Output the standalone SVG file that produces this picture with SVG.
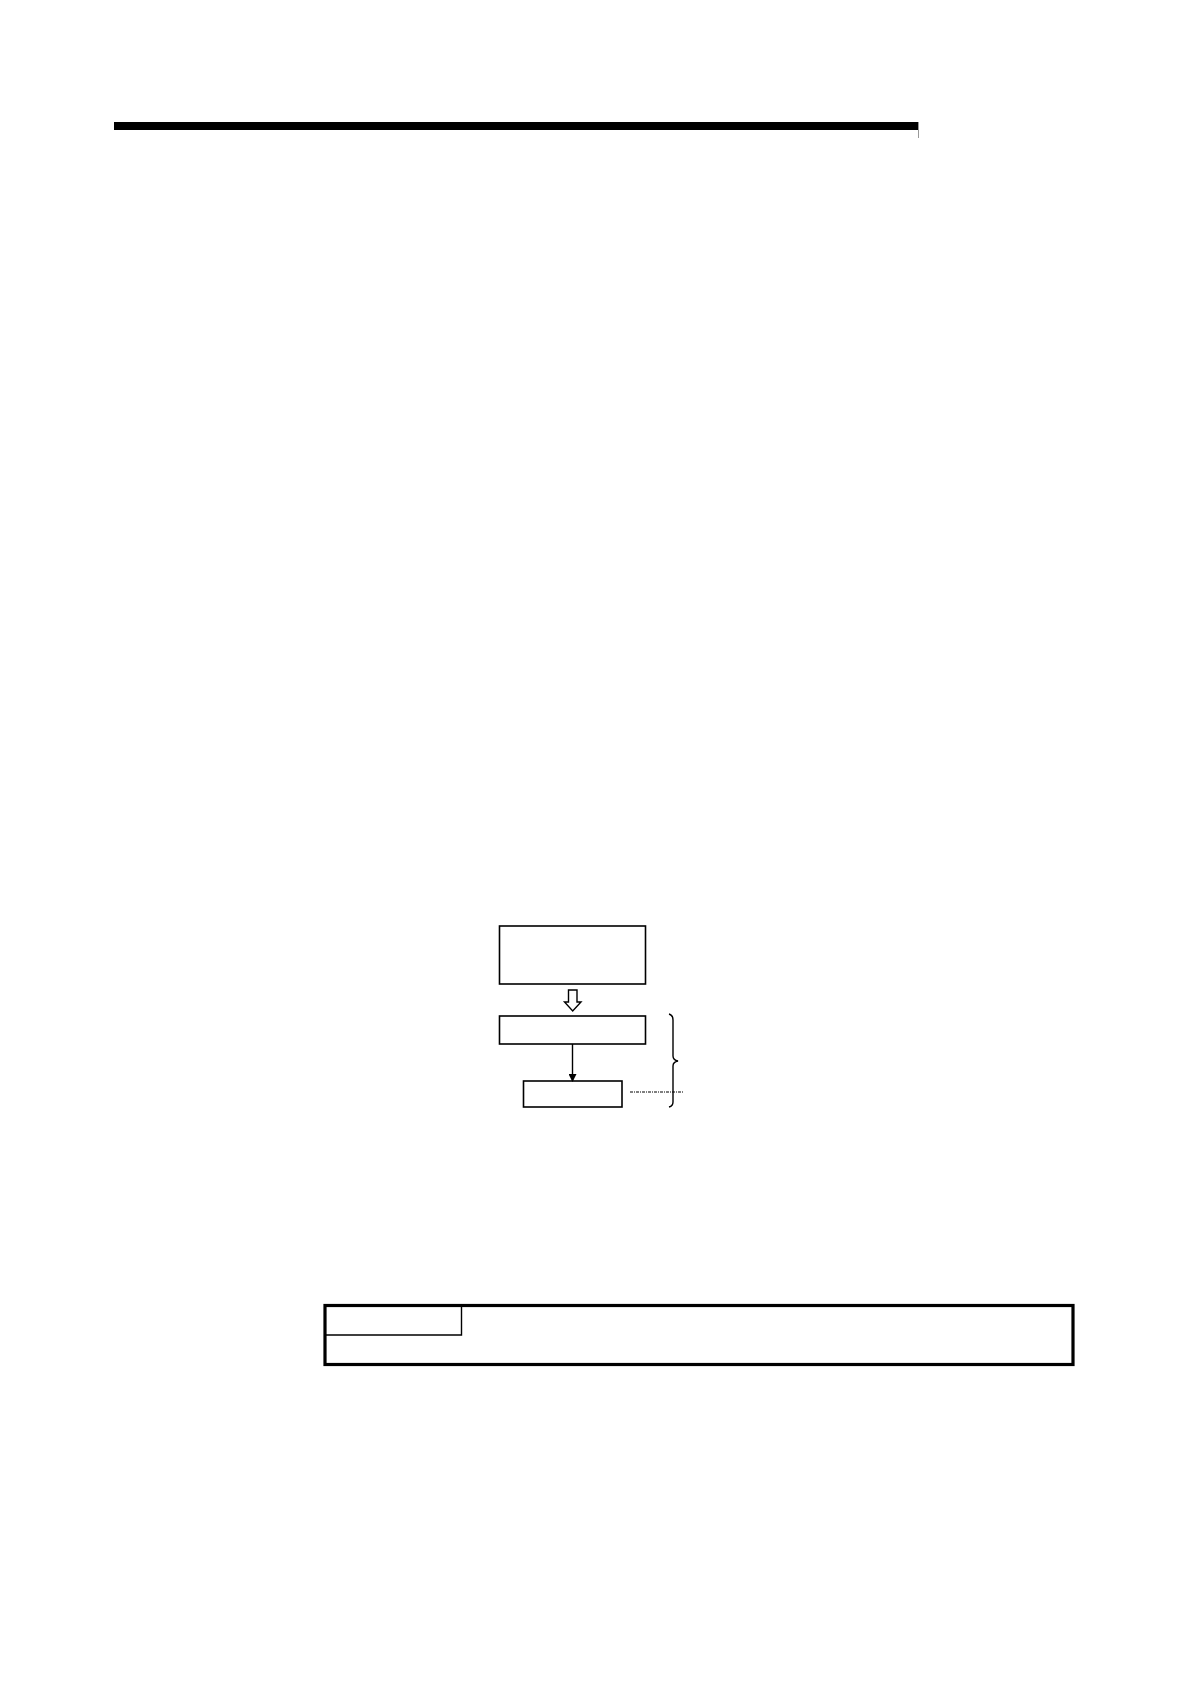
<svg xmlns="http://www.w3.org/2000/svg" width="1190" height="1684" viewBox="0 0 1190 1684">
<style>
.box{fill:#fff;stroke:#000;stroke-width:1.6}
.ln{fill:none;stroke:#000;stroke-width:1.4}
</style>
<defs>
<marker id="ah" markerWidth="8" markerHeight="8" refX="7" refY="4" orient="auto" markerUnits="userSpaceOnUse">
<path d="M0,0 L8,4 L0,8 Z" fill="#000"/>
</marker>
</defs>
<rect width="1190" height="1684" fill="#fff"/>
<g id="header">
<rect x="114" y="122" width="804" height="8" fill="#000"/>
<line x1="918.5" y1="122" x2="918.5" y2="138" stroke="#999" stroke-width="1"/>
</g>
<g id="node1"><rect class="box" x="499.5" y="926" width="146" height="58"/></g>
<g id="node2"><rect class="box" x="499.5" y="1016" width="146" height="28"/></g>
<g id="node3"><rect class="box" x="523.5" y="1081" width="98.5" height="26"/></g>
<g id="brace">
<path class="ln" d="M669,1014 Q673,1015 673,1020 L673,1056 Q673,1060 678,1061 Q673,1062 673,1066 L673,1102 Q673,1106 669,1107"/>
</g>
<g id="note">
<rect x="325" y="1305.5" width="748" height="59" fill="none" stroke="#000" stroke-width="3.2"/>
<path class="ln" d="M325,1335 L461.5,1335 L461.5,1305.5"/>
</g>
<g id="connectors">
<path d="M568.5,990 L577,990 L577,1002 L581,1002 L572.7,1011 L564.5,1002 L568.5,1002 Z" fill="#fff" stroke="#000" stroke-width="1.4"/>
<line class="ln" x1="572.5" y1="1044" x2="572.5" y2="1081" marker-end="url(#ah)"/>
<line x1="630" y1="1092" x2="684" y2="1092" stroke="#000" stroke-width="1.1" stroke-dasharray="3,1,1,1"/>
</g>
</svg>
